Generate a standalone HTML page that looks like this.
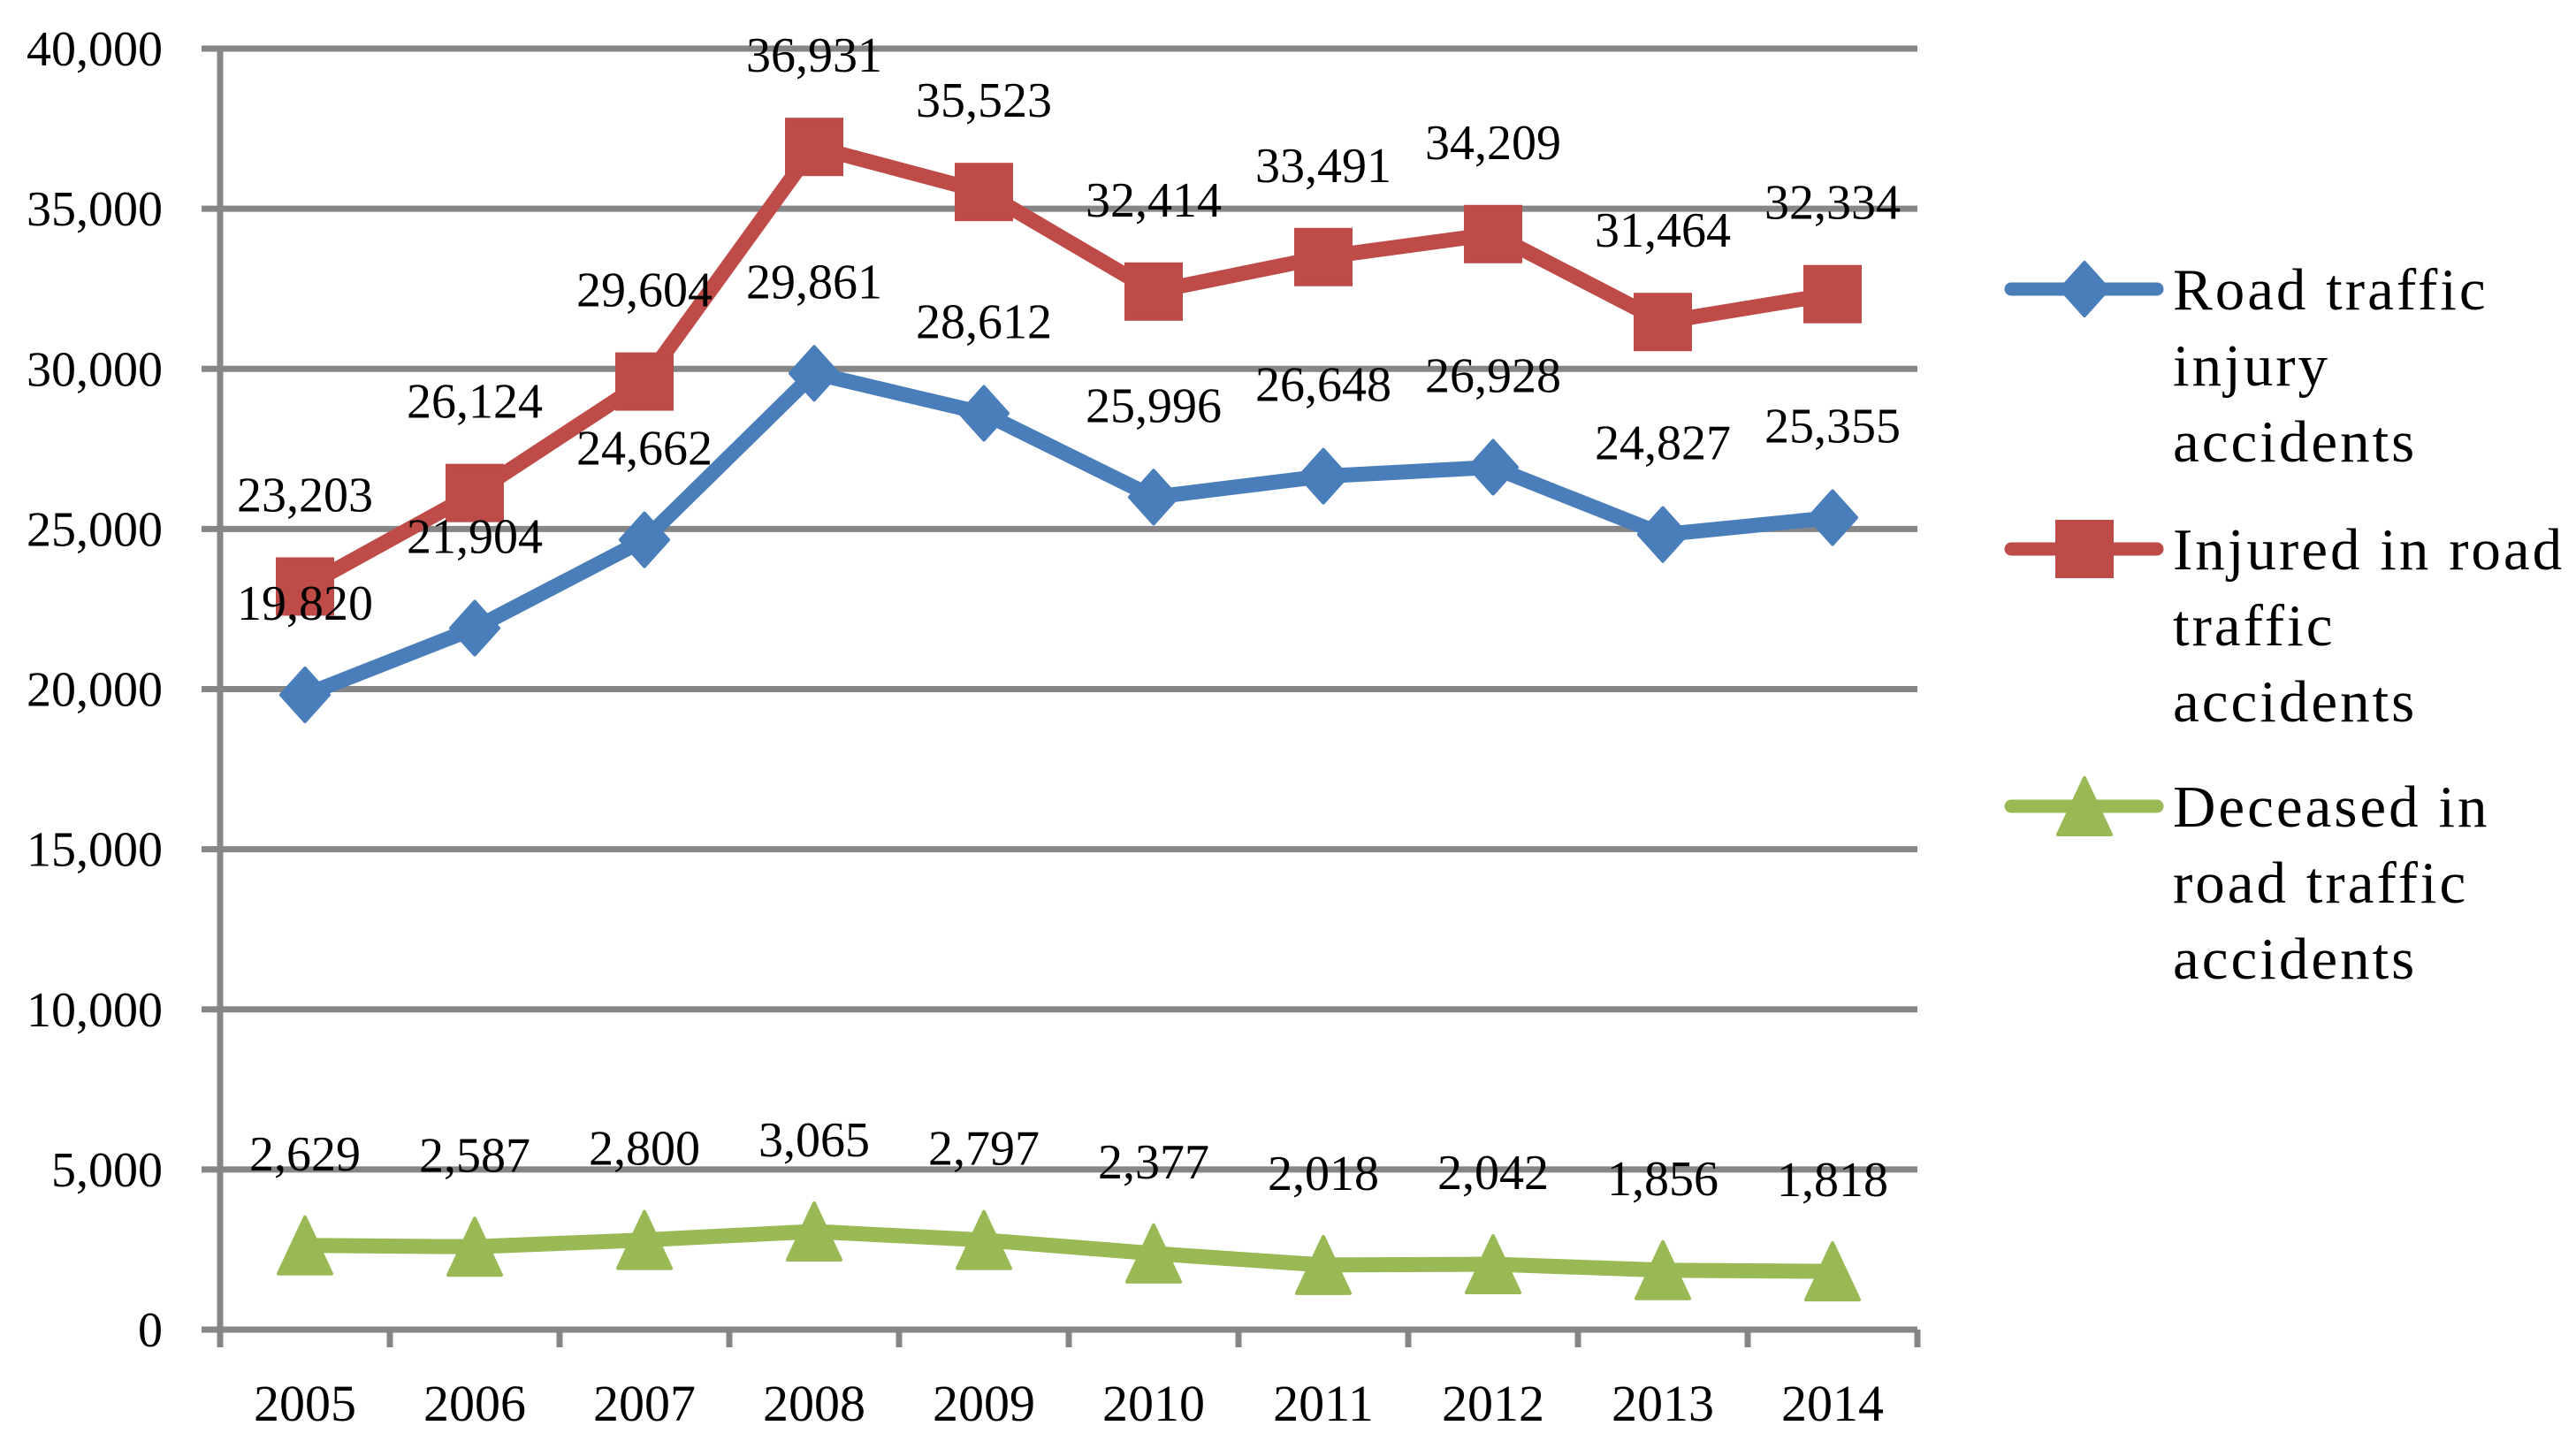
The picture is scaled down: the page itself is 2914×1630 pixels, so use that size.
<!DOCTYPE html>
<html><head><meta charset="utf-8"><style>
html,body{margin:0;padding:0;background:#fff;}
svg{display:block;font-family:"Liberation Serif",serif;}
</style></head><body>
<svg id="chart" width="2914" height="1630" viewBox="0 0 2914 1630" xmlns="http://www.w3.org/2000/svg">
<g id="grid"></g>
<g id="axes"></g>
<g id="series"></g>
<g id="labels"></g>
<g id="legend"></g>
</svg>
<script>
const categories = ["2005","2006","2007","2008","2009","2010","2011","2012","2013","2014"];
const injuryAccidents = [19820,21904,24662,29861,28612,25996,26648,26928,24827,25355];
const injured = [23203,26124,29604,36931,35523,32414,33491,34209,31464,32334];
const deceased = [2629,2587,2800,3065,2797,2377,2018,2042,1856,1818];
const yTicks = [0,5000,10000,15000,20000,25000,30000,35000,40000];
const seriesNames = [["Road traffic","injury","accidents"],["Injured in road","traffic","accidents"],["Deceased in","road traffic","accidents"]];

const NS="http://www.w3.org/2000/svg";
const L=249,R=2169,T=55,B=1504,YMAX=40000;
const cw=(R-L)/categories.length;
const x=i=>L+cw*(i+0.5);
const y=v=>B-(v/YMAX)*(B-T);
function mk(tag,attrs,parent){const e=document.createElementNS(NS,tag);for(const k in attrs)e.setAttribute(k,attrs[k]);parent.appendChild(e);return e;}
const fmt=v=>v.toLocaleString("en-US");
const grid=document.getElementById("grid"),axes=document.getElementById("axes"),ser=document.getElementById("series"),lab=document.getElementById("labels"),leg=document.getElementById("legend");
const GC="#868686";

yTicks.forEach(t=>{
  const ln=mk("line",{x1:228,x2:R,y1:y(t),y2:y(t),stroke:GC,"stroke-width":7},grid);
  
  
  const tx=mk("text",{x:184,y:y(t)+19,"text-anchor":"end","font-size":56,fill:"#000"},axes);
  tx.textContent=fmt(t);
  
  
});
const ya=mk("line",{x1:L,x2:L,y1:T-3,y2:B+20,stroke:GC,"stroke-width":7},axes);


for(let i=0;i<=categories.length;i++){
  const tk=mk("line",{x1:L+cw*i,x2:L+cw*i,y1:B,y2:B+20,stroke:GC,"stroke-width":7},axes);
  
  
}
categories.forEach((c,i)=>{
  const tx=mk("text",{x:x(i),y:1607,"text-anchor":"middle","font-size":58,fill:"#000"},axes);
  tx.textContent=c;
  
  
});

const colors=["#4a7ebb","#be4b48","#98b954"];
const data=[injuryAccidents,injured,deceased];
function marker(kind,cx,cy,color,parent){
  let m;
  if(kind===0) m=mk("polygon",{points:`${cx},${cy-30} ${cx+27},${cy} ${cx},${cy+30} ${cx-27},${cy}`,fill:color,stroke:color,"stroke-width":4,"stroke-linejoin":"round"},parent);
  else if(kind===1) m=mk("rect",{x:cx-31,y:cy-31,width:62,height:62,fill:color,stroke:color,"stroke-width":4},parent);
  else m=mk("polygon",{points:`${cx},${cy-32} ${cx+30},${cy+32} ${cx-30},${cy+32}`,fill:color,stroke:color,"stroke-width":4,"stroke-linejoin":"round"},parent);
  return m;
}
data.forEach((vals,s)=>{
  const pts=vals.map((v,i)=>x(i)+","+y(v)).join(" ");
  const pl=mk("polyline",{points:pts,fill:"none",stroke:colors[s],"stroke-width":17,"stroke-linejoin":"round"},ser);
  
  
  vals.forEach((v,i)=>{
    const m=marker(s,x(i),y(v),colors[s],ser);
    
    
    const tx=mk("text",{x:x(i),y:y(v)-85,"text-anchor":"middle","font-size":56,fill:"#000"},lab);
    tx.textContent=fmt(v);
    
    
  });
});

const legY=[327,621,912];
seriesNames.forEach((lines,s)=>{
  const g=mk("g",{},leg);
  
  
  mk("line",{x1:2275,x2:2440,y1:legY[s],y2:legY[s],stroke:colors[s],"stroke-width":15,"stroke-linecap":"round"},g);
  marker(s,2358,legY[s],colors[s],g);
  lines.forEach((t,j)=>{
    const tx=mk("text",{x:2458,y:legY[s]+23+j*86,"font-size":67,"letter-spacing":3,fill:"#000"},g);
    tx.textContent=t;
  });
});
</script>
</body></html>
